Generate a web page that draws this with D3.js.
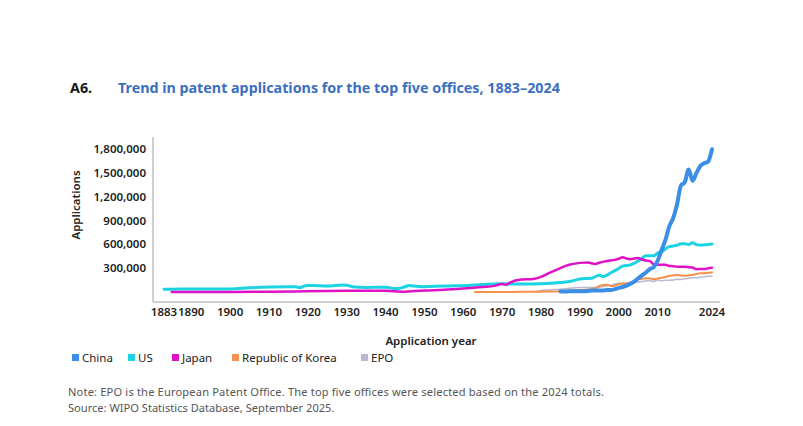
<html>
<script src="https://d3js.org/d3.v7.min.js"></script>
<style>
  body { margin: 0; background: #fff; }
  svg text { font-family: "Noto Sans", "Open Sans", sans-serif; }
</style>
<body>
<svg width="803" height="426"></svg>
<script>
// ---- data ----
var seriesNames = ["China", "US", "Japan", "Republic of Korea", "EPO"];

var usYears = [1883,1885,1890,1895,1900,1905,1910,1915,1917,1918,1919,1920,1921,1925,1929,1930,1932,1935,1940,1942,1943,1945,1946,1947,1950,1955,1960,1965,1970,1975,1980,1985,1988,1990,1993,1995,1996,1998,2000,2001,2003,2005,2006,2007,2008,2009,2010,2011,2012,2013,2014,2015,2016,2017,2018,2019,2020,2021,2022,2023,2024];
var usValues = [35500,36000,40000,39000,39700,54000,63300,67100,66000,55000,75000,81000,81000,76000,89000,86000,63000,58000,61000,46000,45000,67000,81000,76000,67000,77000,79000,95000,103000,102000,105000,120000,140000,164000,174000,212000,195000,243000,296000,326000,342000,391000,426000,456000,456000,456000,490000,504000,542000,571000,579000,589000,606000,607000,597000,621000,597000,591000,594000,598000,603000];

var japanYears = [1885,1890,1900,1910,1920,1930,1937,1940,1945,1946,1950,1955,1960,1965,1968,1970,1971,1972,1975,1978,1980,1982,1985,1987,1990,1992,1994,1995,1997,1999,2000,2001,2002,2003,2004,2005,2006,2007,2008,2009,2010,2011,2012,2013,2014,2015,2016,2017,2018,2019,2020,2021,2022,2023,2024];
var japanValues = [400,1000,2000,5000,10000,15000,17000,15000,4000,7000,20000,28000,44000,64000,78000,101000,91000,120000,159000,165000,191000,237000,302000,341000,367000,372000,353000,369000,391000,405000,419000,439000,421000,413000,423000,427000,409000,396000,391000,349000,345000,343000,343000,329000,326000,319000,318000,318000,313000,308000,288000,289000,289000,300000,306000];

var koreaYears = [1963,1970,1975,1980,1985,1988,1990,1992,1994,1995,1996,1997,1998,1999,2000,2001,2002,2003,2004,2005,2006,2007,2008,2009,2010,2011,2012,2013,2014,2015,2016,2017,2018,2019,2020,2021,2022,2023,2024];
var koreaValues = [1000,1800,2900,5000,10600,20000,25800,31000,45700,78500,90300,92700,75200,80600,102000,104600,106100,118700,140100,160900,166200,172500,170600,163500,170100,178900,188900,204600,210300,213700,208800,204800,209900,219000,226800,237900,237600,243300,246000];

var epoYears = [1978,1979,1980,1982,1985,1987,1990,1992,1995,1997,1998,2000,2002,2004,2005,2007,2008,2009,2010,2011,2012,2013,2014,2015,2016,2017,2018,2019,2020,2021,2022,2023,2024];
var epoValues = [3600,11000,19900,27000,36000,45000,58000,58000,60000,79000,86000,110000,110000,123000,128000,140000,146000,134000,151000,142000,148000,148000,152000,160000,159000,166000,174000,181000,180000,188000,193000,199000,199000];

var chinaYears = [1985,1986,1987,1988,1989,1990,1991,1992,1993,1994,1995,1996,1997,1998,1999,2000,2001,2002,2003,2004,2005,2006,2007,2008,2009,2010,2011,2012,2013,2014,2015,2016,2017,2018,2019,2020,2021,2022,2023,2024];
var chinaValues = [8600,8000,9000,10000,10000,10100,11400,14400,19600,19100,18700,21000,24800,25000,36700,51900,63200,80200,105300,130100,173300,210500,245200,289800,314600,391200,526400,652800,825100,928200,1101900,1338500,1381600,1542000,1400700,1497200,1585700,1619300,1642000,1796000];

var xTicks = [1883,1890,1900,1910,1920,1930,1940,1950,1960,1970,1980,1990,2000,2010,2024];
var yTicks = [300000,600000,900000,1200000,1500000,1800000];

// ---- layout ----
var colors = {
  "China": "#3a8ee6",
  "US": "#1bd3e2",
  "Japan": "#e012c8",
  "Republic of Korea": "#f7904a",
  "EPO": "#b9b9cd"
};
var widths = { "China": 4, "US": 3, "Japan": 2.5, "Republic of Korea": 2, "EPO": 1.5 };

var svg = d3.select("svg");

var x = d3.scaleLinear().domain([1883, 2024]).range([164, 712]);
var y = d3.scaleLinear().domain([-125000, 1950000]).range([302, 137]);

// title
svg.append("text").attr("x", 70).attr("y", 93)
  .attr("font-size", 14.3).attr("font-weight", 700).attr("fill", "#1a1a1a")
  .text("A6.");
svg.append("text").attr("x", 118).attr("y", 93)
  .attr("font-size", 14.3).attr("font-weight", 700).attr("fill", "#3b6fc2")
  .text("Trend in patent applications for the top five offices, 1883\u20132024");

// axes lines
svg.append("line").attr("x1", 153).attr("x2", 153).attr("y1", 137).attr("y2", 302)
  .attr("stroke", "#cfcfcf").attr("stroke-width", 2);
svg.append("line").attr("x1", 153).attr("x2", 720).attr("y1", 302).attr("y2", 302)
  .attr("stroke", "#cfcfcf").attr("stroke-width", 2);

// y ticks
svg.append("g").selectAll("text").data(yTicks).enter().append("text")
  .attr("x", 146).attr("y", function (d) { return y(d); })
  .attr("dy", "0.35em").attr("text-anchor", "end")
  .attr("font-size", 11.5).attr("font-weight", 600).attr("fill", "#222")
  .text(d3.format(","));

// x ticks
svg.append("g").selectAll("text").data(xTicks).enter().append("text")
  .attr("x", function (d) { return x(d); }).attr("y", 312)
  .attr("dy", "0.35em").attr("text-anchor", "middle")
  .attr("font-size", 11.5).attr("font-weight", 600).attr("fill", "#222")
  .text(function (d) { return d; });

// axis titles
svg.append("text").attr("transform", "translate(80,205) rotate(-90)")
  .attr("text-anchor", "middle").attr("font-size", 11.5).attr("font-weight", 600)
  .attr("fill", "#222").text("Applications");
svg.append("text").attr("x", 431).attr("y", 341).attr("dy", "0.35em")
  .attr("text-anchor", "middle").attr("font-size", 11.5).attr("font-weight", 600)
  .attr("fill", "#222").text("Application year");

// lines
var series = [
  { name: "EPO", years: epoYears, values: epoValues },
  { name: "Republic of Korea", years: koreaYears, values: koreaValues },
  { name: "US", years: usYears, values: usValues },
  { name: "Japan", years: japanYears, values: japanValues },
  { name: "China", years: chinaYears, values: chinaValues }
];

var line = d3.line()
  .x(function (d) { return x(d[0]); })
  .y(function (d) { return y(d[1]); })
  .curve(d3.curveMonotoneX);

series.forEach(function (s) {
  var pts = s.years.map(function (yr, i) { return [yr, s.values[i]]; });
  svg.append("path").datum(pts)
    .attr("d", line)
    .attr("fill", "none")
    .attr("stroke", colors[s.name])
    .attr("stroke-width", widths[s.name])
    .attr("stroke-linejoin", "round")
    .attr("stroke-linecap", "round");
});

// legend
var legendX = [72, 128, 172, 232, 361];
var lg = svg.append("g").selectAll("g").data(seriesNames).enter().append("g")
  .attr("transform", function (d, i) { return "translate(" + legendX[i] + ",358)"; });
lg.append("rect").attr("x", 0).attr("y", -4).attr("width", 7).attr("height", 7)
  .attr("fill", function (d) { return colors[d]; });
lg.append("text").attr("x", 10).attr("y", 0).attr("dy", "0.35em")
  .attr("font-size", 11.5).attr("fill", "#222")
  .text(function (d) { return d; });

// notes
svg.append("text").attr("x", 68).attr("y", 396).attr("font-size", 11.1).attr("fill", "#555")
  .attr("textLength", 536).attr("lengthAdjust", "spacing")
  .text("Note: EPO is the European Patent Office. The top five offices were selected based on the 2024 totals.");
svg.append("text").attr("x", 68).attr("y", 411.5).attr("font-size", 11.1).attr("fill", "#555")
  .text("Source: WIPO Statistics Database, September 2025.");
</script>
</body>
</html>
